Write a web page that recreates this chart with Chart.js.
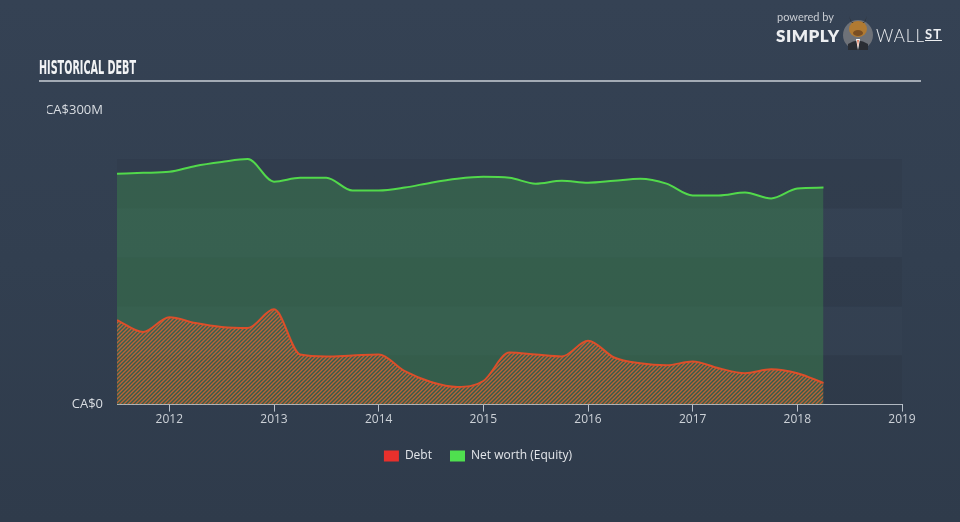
<!DOCTYPE html>
<html>
<head>
<meta charset="utf-8">
<script src="https://cdn.jsdelivr.net/npm/chart.js@4.4.1/dist/chart.umd.min.js"></script>
<style>
  html, body { margin: 0; padding: 0; }
  body { width: 960px; height: 522px; overflow: hidden; position: relative;
         background: linear-gradient(180deg, #354254 0%, #323f50 50%, #2f3b4b 100%);
         font-family: 'Open Sans', sans-serif; }
  #title { position: absolute; left: 39px; top: 56px; color: #f2f3f5;
           font-family: 'Liberation Sans Narrow', 'DejaVu Sans Condensed', sans-serif;
           font-weight: bold; font-size: 19px; white-space: nowrap; transform-origin: 0 0; }
  #rule { position: absolute; left: 39px; top: 80px; width: 882px; height: 2px; background: #a3abb5; }
  #logo { position: absolute; left: 775px; top: 8px; width: 175px; height: 45px; }
  #pw { position: absolute; left: 2px; top: 2px; font-size: 11px; color: #c9cdd3; font-family: 'Lato', sans-serif; }
  #simply { position: absolute; left: 1px; top: 17px; font-size: 17px; font-weight: 800; color: #eceef1;
            font-family: 'Lato', sans-serif; letter-spacing: 0.5px; }
  #wall { position: absolute; left: 101px; top: 17px; font-size: 17px; font-weight: 300; color: #eceef1;
          font-family: 'Lato', sans-serif; letter-spacing: 1px; }
  #wall span { font-size: 13px; font-weight: 700; text-decoration: underline; vertical-align: 3px; }
  #bull { position: absolute; left: 66px; top: 2px; }
  #wrap { position: absolute; left: 0; top: 0; width: 960px; height: 522px; }
</style>
</head>
<body>
<div id="wrap"><canvas id="c" width="960" height="522"></canvas></div>
<div id="title">HISTORICAL DEBT</div>
<div id="rule"></div>
<div id="logo">
  <div id="pw">powered by</div>
  <div id="simply">SIMPLY</div>
  <svg id="bull" width="34" height="42" viewBox="0 0 34 42">
    <circle cx="17" cy="25" r="15" fill="#6d7178"/>
    <path d="M8 6 L11 13 L23 13 L26 6 L24 12 L10 12 Z" fill="#2b2b2b"/>
    <ellipse cx="17" cy="19" rx="9" ry="8" fill="#b07a32"/>
    <ellipse cx="17" cy="23" rx="5" ry="3" fill="#7a4e22"/>
    <path d="M7 34 Q17 27 27 34 L27 40 L7 40 Z" fill="#2a2d33"/>
    <path d="M15 29 L19 29 L17 40 Z" fill="#ffffff"/>
    <path d="M16.3 30 L17.7 30 L17 37 Z" fill="#d84a1b"/>
  </svg>
  <div id="wall">WALL<span>ST</span></div>
</div>
<script>
// ---- data (values in CA$ millions) ----
const years = [2011.5, 2011.75, 2012.0, 2012.25, 2012.5, 2012.75, 2013.0, 2013.25, 2013.5, 2013.75,
               2014.0, 2014.25, 2014.5, 2014.75, 2015.0, 2015.25, 2015.5, 2015.75, 2016.0, 2016.25,
               2016.5, 2016.75, 2017.0, 2017.25, 2017.5, 2017.75, 2018.0, 2018.25];
const debt = [86, 74, 89, 83, 79, 78, 97, 51, 49, 50,
              51, 34, 23, 18, 24, 53, 51, 49, 65, 48,
              42, 40, 44, 37, 32, 36, 32, 22];
const equity = [235, 236, 237, 243, 247, 250, 227, 231, 231, 218,
                218, 221, 226, 230, 232, 231, 225, 228, 226, 228,
                230, 225, 213, 213, 216, 210, 220, 221];
const tickYears = [2012, 2013, 2014, 2015, 2016, 2017, 2018, 2019];
const yTickValues = [0, 300];
const seriesNames = ['Debt', 'Net worth (Equity)'];

// fit title width
(function(){
  const t = document.getElementById('title');
  const w = t.getBoundingClientRect().width;
  t.style.transform = 'scaleX(' + (97 / w) + ')';
})();

function hatch() {
  const s = 4;
  const c = document.createElement('canvas');
  c.width = s; c.height = s;
  const g = c.getContext('2d');
  g.strokeStyle = 'rgba(220,100,50,0.8)';
  g.lineWidth = 1.4;
  g.beginPath();
  g.moveTo(0, s); g.lineTo(s, 0);
  g.moveTo(-1, 1); g.lineTo(1, -1);
  g.moveTo(s - 1, s + 1); g.lineTo(s + 1, s - 1);
  g.stroke();
  return g.createPattern(c, 'repeat');
}
const ctx = document.getElementById('c').getContext('2d');

const bandsPlugin = {
  id: 'bands',
  beforeDraw(chart) {
    const c = chart.ctx;
    c.save();
    c.beginPath();
    c.rect(47, 0, chart.width, chart.height);
    c.clip();
  },
  beforeDatasetsDraw(chart) {
    const c = chart.ctx, a = chart.chartArea, y = chart.scales.y;
    for (let v = 0, i = 0; v < 250; v += 50, i++) {
      const top = y.getPixelForValue(v + 50), bot = y.getPixelForValue(v);
      c.fillStyle = (i % 2 === 0) ? 'rgba(20,28,40,0.08)' : 'rgba(255,255,255,0.01)';
      c.fillRect(a.left, top, a.right - a.left, bot - top);
    }
  },
  afterDraw(chart) { chart.ctx.restore(); },
  afterLayout(chart) {
    const l = chart.legend;
    if (l) { l.left += 27; l.right += 27; }
  }
};

new Chart(ctx, {
  type: 'line',
  data: {
    datasets: [
      { label: seriesNames[0], data: years.map((x, i) => ({x, y: debt[i]})),
        borderColor: '#dc4f2a', borderWidth: 2, backgroundColor: hatch(),
        fill: 'origin', pointRadius: 0, cubicInterpolationMode: 'monotone' },
      { label: seriesNames[1], data: years.map((x, i) => ({x, y: equity[i]})),
        borderColor: '#52d94b', borderWidth: 2, backgroundColor: 'rgba(64,150,80,0.38)',
        fill: 'origin', pointRadius: 0, cubicInterpolationMode: 'monotone' }
    ]
  },
  options: {
    responsive: false, animation: false,
    layout: { padding: { top: 110, right: 58, bottom: 50, left: 0 } },
    plugins: {
      legend: {
        position: 'bottom',
        labels: {
          color: '#e3e6ea', font: { family: 'Open Sans', size: 12 },
          boxWidth: 15, boxHeight: 11, padding: 18,
          generateLabels(chart) {
            const cols = ['#e8302c', '#4fe04f'];
            return chart.data.datasets.map((d, i) => ({
              text: d.label, fillStyle: cols[i], strokeStyle: cols[i], lineWidth: 0,
              fontColor: '#e3e6ea', datasetIndex: i, hidden: false }));
          }
        }
      },
      tooltip: { enabled: false }
    },
    scales: {
      x: {
        type: 'linear', min: 2011.5, max: 2019,
        afterBuildTicks(s) { s.ticks = tickYears.map(v => ({ value: v })); },
        afterFit(s) { s.height += 4; },
        ticks: { color: '#cdd2d8', font: { family: 'Open Sans', size: 12 }, padding: 1,
                 maxRotation: 0, callback: v => String(v) },
        grid: { display: true, drawOnChartArea: false, color: '#b9c1ca', tickLength: 7, lineWidth: 1 },
        border: { display: true, color: '#b9c1ca', width: 1 }
      },
      y: {
        min: 0, max: 300,
        afterBuildTicks(s) { s.ticks = yTickValues.map(v => ({ value: v })); },
        afterFit(s) { s.width = 117; },
        ticks: { color: '#d9dde2', font: { family: 'Open Sans', size: 13 }, padding: 6,
                 callback: v => v === 0 ? 'CA$0' : 'CA$' + v + 'M' },
        grid: { display: false },
        border: { display: false }
      }
    }
  },
  plugins: [bandsPlugin]
});
</script>
</body>
</html>
